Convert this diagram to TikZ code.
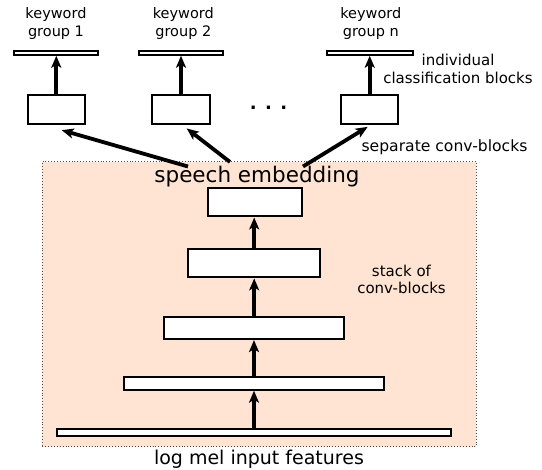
\documentclass[tikz,border=0pt]{standalone}
\usepackage{fontspec}
\setmainfont{DejaVu Sans}
\usetikzlibrary{arrows.meta}
\definecolor{peach}{RGB}{255,228,211}
\tikzset{
  blk/.style={draw, line width=2.2pt, fill=white, inner sep=0pt},
  arr/.style={line width=3.8pt, -{Stealth[length=12pt,width=10pt,inset=3pt]}},
  lbl/.style={inner sep=0pt, align=center, anchor=base},
}
\begin{document}
\begin{tikzpicture}[x=1pt,y=-1pt]
\useasboundingbox (0,0) rectangle (542,470);
% background
\node[draw=black!70, dotted, line width=0.9pt, fill=peach, inner sep=0pt,
      minimum width=433.7pt, minimum height=285pt] (bg) at (259.2,304.2) {};
% stack
\node[blk, minimum width=394pt, minimum height=6.7pt] (l1) at (254,432.6) {};
\node[blk, minimum width=259.4pt, minimum height=12.7pt] (l2) at (254,383.3) {};
\node[blk, minimum width=179.7pt, minimum height=22pt] (l3) at (254.2,328) {};
\node[blk, minimum width=132.3pt, minimum height=28.6pt] (l4) at (254.2,263) {};
\node[blk, minimum width=93.7pt, minimum height=28.3pt] (l5) at (255.2,202.2) {};
\draw[arr] (l1.north) -- (l1.north |- l2.south);
\draw[arr] (l2.north) -- (l2.north |- l3.south);
\draw[arr] (l3.north) -- (l3.north |- l4.south);
\draw[arr] (l4.north) -- (l4.north |- l5.south);
% top boxes
\node[blk, minimum width=57.3pt, minimum height=28.7pt] (c1) at (56.3,109.7) {};
\node[blk, minimum width=57.7pt, minimum height=28.7pt] (c2) at (181,109.7) {};
\node[blk, minimum width=57.3pt, minimum height=28.7pt] (cn) at (369.7,109.7) {};
\node[blk, minimum width=84.7pt, minimum height=3.7pt] (k1) at (56,52.8) {};
\node[blk, minimum width=84.3pt, minimum height=3.7pt] (k2) at (180.8,52.8) {};
\node[blk, minimum width=85.7pt, minimum height=3.7pt] (kn) at (369.8,52.8) {};
\draw[arr] (c1.north) -- (c1.north |- k1.south);
\draw[arr] (c2.north) -- (c2.north |- k2.south);
\draw[arr] (cn.north) -- (cn.north |- kn.south);
% embedding arrows
\coordinate (s1) at (188,166.5);
\coordinate (s2) at (230,162);
\coordinate (s3) at (303,166.5);
\draw[arr] (s1) -- ([xshift=5.4pt,yshift=-5pt]c1.south);
\draw[arr] (s2) -- ([xshift=5.7pt,yshift=-3.3pt]c2.south);
\draw[arr] (s3) -- ([xshift=-2pt,yshift=-1.7pt]cn.south);
% texts
\node[lbl, font=\fontsize{14.5}{17.7}\selectfont] (t1) at (56,36.7) {keyword\\group 1};
\node[lbl, font=\fontsize{14.5}{17.7}\selectfont] (t2) at (183.3,36.7) {keyword\\group 2};
\node[lbl, font=\fontsize{14.5}{17.7}\selectfont] (tn) at (370.8,36.7) {keyword\\group n};
\node[lbl, font=\fontsize{15}{18.3}\selectfont] (ind) at (458,84) {individual\\classification blocks};
\node[lbl, font=\fontsize{18}{20}\bfseries\selectfont] (dots) at (268.5,109.5) {. . .};
\node[lbl, font=\fontsize{15.6}{18}\selectfont] (sep) at (444.5,152) {separate conv-blocks};
\node[lbl, font=\fontsize{21.5}{25}\selectfont] (emb) at (257,182.3) {speech embedding};
\node[lbl, font=\fontsize{15}{16.7}\selectfont] (stk) at (401.5,293.3) {stack of\\conv-blocks};
\node[lbl, font=\fontsize{19}{22}\selectfont] (mel) at (259,465) {log mel input features};
\end{tikzpicture}
\end{document}
